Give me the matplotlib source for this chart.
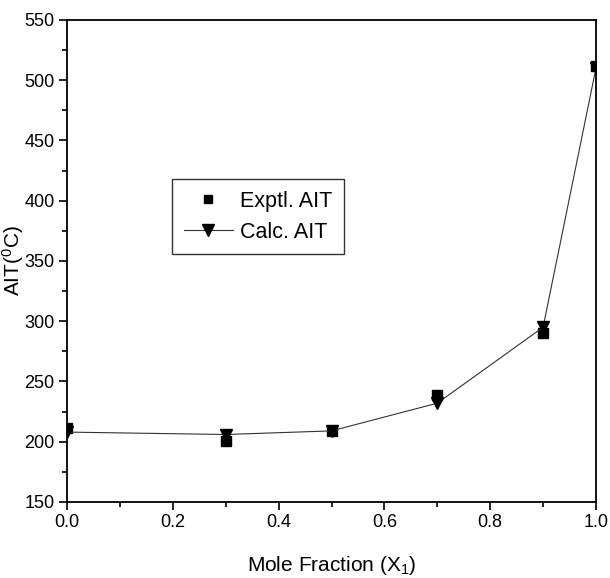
import matplotlib
matplotlib.use("Agg")
import matplotlib.pyplot as plt
from matplotlib.ticker import MultipleLocator

plt.rcParams["font.family"] = ["Liberation Sans Narrow", "Liberation Sans", "DejaVu Sans"]
plt.rcParams["mathtext.fontset"] = "custom"
plt.rcParams["mathtext.rm"] = "Liberation Sans"
plt.rcParams["mathtext.it"] = "Liberation Sans"

mole_fraction = [0.0, 0.3, 0.5, 0.7, 0.9, 1.0]
exptl_ait = [211, 201, 209, 239, 290, 512]
calc_ait = [208, 206, 209, 232, 295, 510]

fig = plt.figure(figsize=(6.1, 5.78), dpi=100)
ax = fig.add_axes([0.11, 0.1315, 0.867, 0.834])

ax.plot(mole_fraction, exptl_ait, linestyle="none", marker="s", color="black",
        markersize=7, label="Exptl. AIT")
ax.plot(mole_fraction, calc_ait, linestyle="-", linewidth=0.8, color="#333333",
        marker="v", markersize=9, markerfacecolor="black", markeredgecolor="black",
        label="Calc. AIT")

ax.set_xlim(0, 1.0)
ax.set_ylim(150, 550)
ax.xaxis.set_major_locator(MultipleLocator(0.2))
ax.xaxis.set_minor_locator(MultipleLocator(0.1))
ax.yaxis.set_major_locator(MultipleLocator(50))
ax.yaxis.set_minor_locator(MultipleLocator(25))
ax.tick_params(which="major", direction="out", length=6, width=1.2, labelsize=13, pad=3)
ax.tick_params(which="minor", direction="out", length=3.5, width=1.2)
ax.tick_params(top=False, right=False)
for s in ax.spines.values():
    s.set_linewidth(1.3)

ax.set_xlabel(r"Mole Fraction (X$_1$)", fontsize=15, labelpad=16)
ax.set_ylabel(r"AIT($^0$C)", fontsize=15)
ax.yaxis.set_label_coords(-0.078, 0.5)

leg = ax.legend(loc="upper left", bbox_to_anchor=(0.198, 0.67), borderaxespad=0,
                fontsize=15.5, frameon=True, fancybox=False, edgecolor="black",
                handlelength=2.3, handletextpad=0.3, borderpad=0.55,
                labelspacing=0.45, markerscale=0.9)
leg.get_frame().set_linewidth(1.0)

fig.savefig("out.png", dpi=100)
